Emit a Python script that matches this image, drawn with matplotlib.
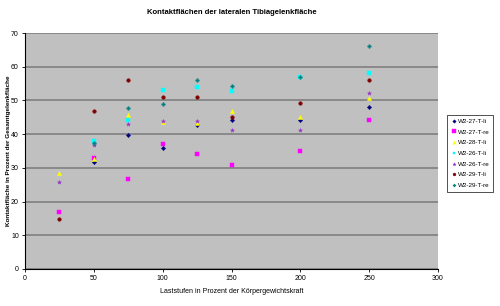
import numpy as np
import matplotlib
matplotlib.use("Agg")
import matplotlib.pyplot as plt

plt.rcParams['font.family'] = ['Liberation Sans', 'DejaVu Sans']

# load levels in percent of body weight
levels = [25, 50, 75, 100, 125, 150, 200, 250]
nan = np.nan

series_names = ["W2-27-T-li", "W2-27-T-re", "W2-28-T-li", "W2-26-T-li",
                "W2-26-T-re", "W2-29-T-li", "W2-29-T-re"]
w2_27_li = [nan, 31.7, 39.8, 35.9, 42.8, 44.1, 44.1, 48.0]
w2_27_re = [16.9, 33.0, 26.7, 37.1, 34.0, 30.9, 34.9, 44.1]
w2_28_li = [28.5, 32.6, 45.7, 43.5, 43.3, 47.0, 45.0, 50.7]
w2_26_li = [nan, 37.9, 44.1, 53.0, 54.0, 52.9, 56.9, 58.2]
w2_26_re = [25.7, 36.8, 42.9, 44.0, 43.8, 41.1, 41.1, 52.1]
w2_29_li = [14.8, 47.0, 56.0, 51.1, 50.9, 45.1, 49.1, 56.2]
w2_29_re = [nan, 37.3, 47.9, 49.0, 56.0, 54.2, 57.0, 66.3]

values = [w2_27_li, w2_27_re, w2_28_li, w2_26_li, w2_26_re, w2_29_li, w2_29_re]
colors = ['#000080', '#ff00ff', '#ffff00', '#00ffff', '#9933cc', '#800000', '#008080']
markers = ['D', 's', '^', 's', '*', 'o', 'P']
sizes = [2.2, 2.8, 3.0, 2.6, 3.0, 2.6, 2.6]

fig = plt.figure(figsize=(5, 3.06), dpi=100)
ax = fig.add_axes([0.05, 0.121, 0.826, 0.771])
ax.set_facecolor('#c0c0c0')

for name, vals, c, m, s in zip(series_names, values, colors, markers, sizes):
    ax.plot(levels, vals, linestyle='none', marker=m, color=c, markersize=s,
            markeredgewidth=0.3, label=name)

ax.set_xlim(0, 300)
ax.set_ylim(0, 70)
ax.set_xticks(np.arange(0, 301, 50))
ax.set_yticks(np.arange(0, 71, 10))
ax.yaxis.grid(True, color='#808080', linewidth=1.2)
ax.set_axisbelow(True)
ax.tick_params(labelsize=5, length=2.5, width=0.6, pad=2)
for s in ['top', 'right']:
    ax.spines[s].set_visible(False)
for s in ['left', 'bottom']:
    ax.spines[s].set_linewidth(0.8)

ax.set_title("Kontaktflächen der lateralen Tibiagelenkfläche", fontsize=5.5,
             fontweight='bold', pad=14)
ax.set_xlabel("Laststufen in Prozent der Körpergewichtskraft", fontsize=5, labelpad=4)
ax.set_ylabel("Kontaktfläche in Prozent der Gesamtgelenkfläche", fontsize=4.6,
              fontweight='bold')
ax.yaxis.set_label_coords(-0.033, 0.5)

leg = ax.legend(loc='center left', bbox_to_anchor=(1.015, 0.49), fontsize=4.5,
                frameon=True, fancybox=False, edgecolor='black',
                handletextpad=0.1, handlelength=1.0, labelspacing=0.85,
                borderpad=0.6, markerscale=0.8)
leg.get_frame().set_linewidth(0.6)

fig.savefig("out.png", dpi=100)
